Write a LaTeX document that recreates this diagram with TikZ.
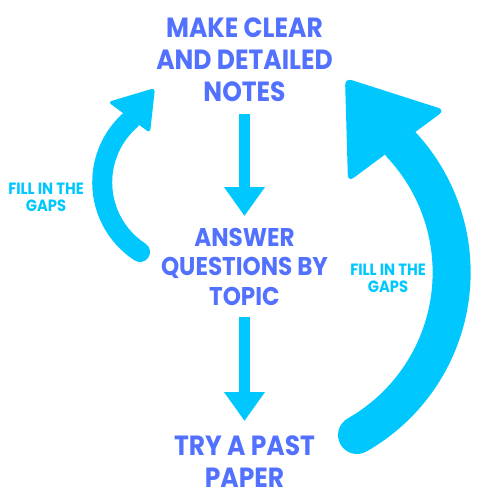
\documentclass[tikz,border=0pt]{standalone}
\usepackage{fontspec}
\setmainfont{Poppins}[FakeStretch=0.9]
\usetikzlibrary{positioning,arrows.meta}
\definecolor{stepblue}{RGB}{82,113,255}
\definecolor{gapcyan}{RGB}{0,200,255}

\begin{document}
\begin{tikzpicture}[x=0.02cm,y=0.02cm,node distance=4cm,on grid,
    stepbox/.style={text=stepblue,font=\bfseries\fontsize{15.8}{18}\selectfont,align=center,inner sep=0pt},
    gaplabel/.style={text=gapcyan,font=\bfseries\fontsize{9.3}{9.6}\selectfont,align=center,inner sep=0pt},
    flow/.style={gapcyan,line width=0.22cm,-{Triangle[length=0.58cm,width=0.78cm]}},
    backarc/.style={gapcyan,line cap=round}]
    \useasboundingbox (0,0) rectangle (500,500);
    \node[stepbox] (notes) at (244.5,440.3) {MAKE CLEAR\\AND DETAILED\\NOTES};
    \node[stepbox,font=\bfseries\fontsize{14.6}{16.7}\selectfont] (answer) [below=4.146cm of notes] {ANSWER\\QUESTIONS BY\\TOPIC};
    \node[stepbox,font=\bfseries\fontsize{15.8}{18.4}\selectfont] (paper) [below=3.89cm of answer] {TRY A PAST\\PAPER};
    \node[gaplabel] (gapleft) at (46,303) {FILL IN THE\\GAPS};
    \node[gaplabel] (gapright) at (388,222) {FILL IN THE\\GAPS};
    \draw[flow,shorten <=0.24cm,shorten >=0.24cm] (notes) -- (answer);
    \draw[flow,shorten <=0.22cm,shorten >=0.28cm] (answer) -- (paper);
    % small loop back on the left
    \coordinate (ltail) at (140,248);
    \draw[backarc,line width=0.4cm] (ltail) arc[start angle=237,end angle=131,radius=83];
    \fill[gapcyan,rounded corners=2pt] (108,398) -- (155,412) -- (150,367) -- cycle;
    % big loop back on the right
    \coordinate (rtail) at (357,65);
    \draw[backarc,line width=0.76cm] (rtail) arc[start angle=-60.4,end angle=43,radius=187];
    \fill[gapcyan,rounded corners=4pt] (345,422) -- (445,390) -- (348,318) -- cycle;
\end{tikzpicture}
\end{document}
